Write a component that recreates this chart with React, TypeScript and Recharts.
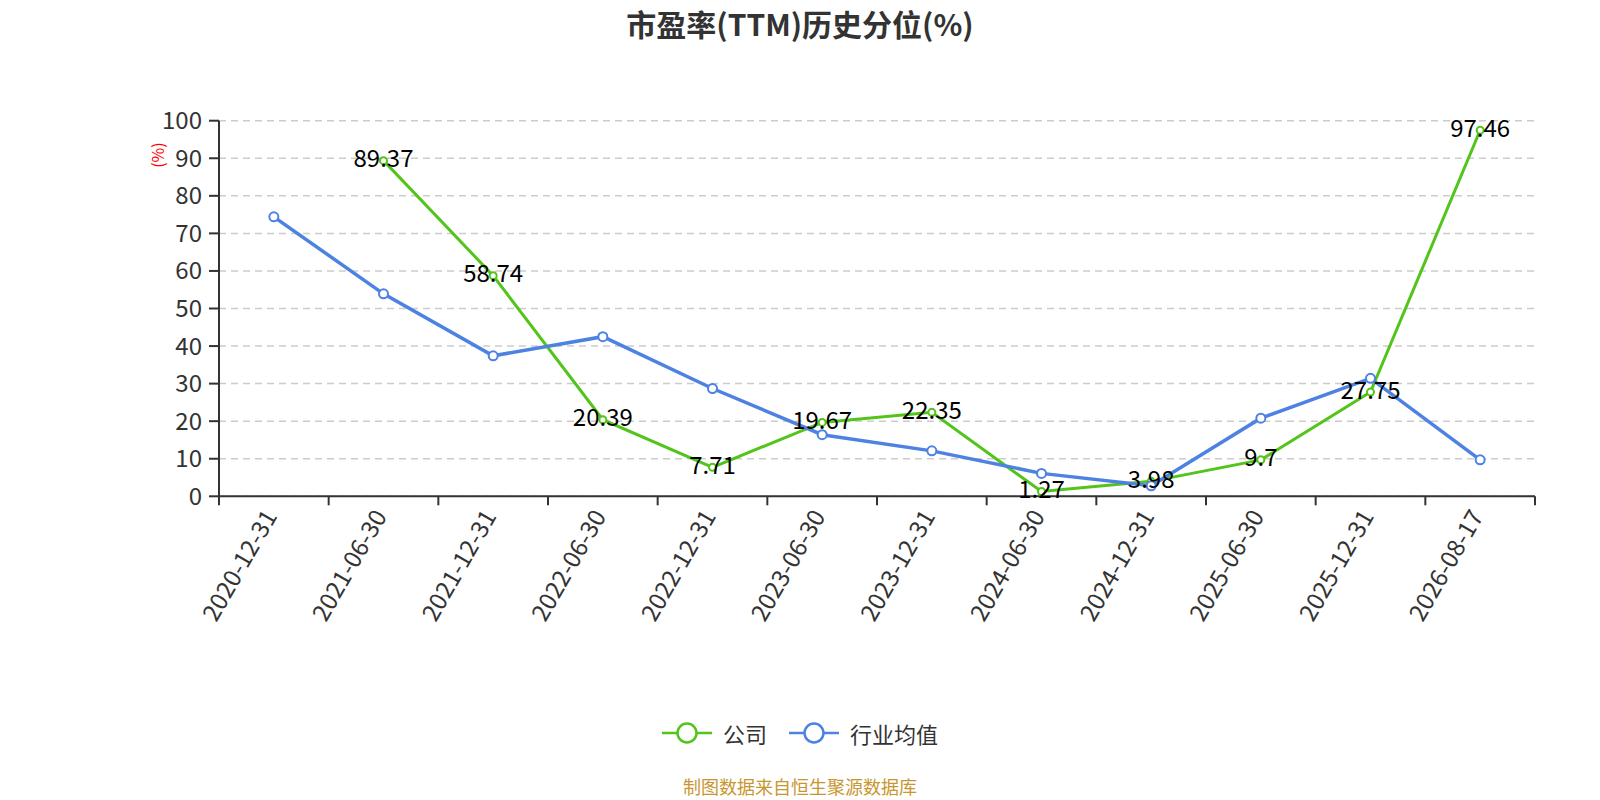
import React from 'react';
import { LineChart, Line, XAxis, YAxis, CartesianGrid, LabelList } from 'recharts';

const categories = [
  '2020-12-31', '2021-06-30', '2021-12-31', '2022-06-30', '2022-12-31', '2023-06-30',
  '2023-12-31', '2024-06-30', '2024-12-31', '2025-06-30', '2025-12-31', '2026-08-17',
];
const companyValues: (number | null)[] = [null, 89.37, 58.74, 20.39, 7.71, 19.67, 22.35, 1.27, 3.98, 9.7, 27.75, 97.46];
const industryValues = [74.4, 53.9, 37.4, 42.5, 28.7, 16.4, 12.1, 6.1, 2.8, 20.8, 31.4, 9.7];
const yTicks = [0, 10, 20, 30, 40, 50, 60, 70, 80, 90, 100];

const GREEN = '#52c41a';
const BLUE = '#4d82e2';
const FONT = '"Noto Sans CJK SC", "Noto Sans", sans-serif';

const data = categories.map((c, i) => ({
  x: i + 0.5,
  name: c,
  company: companyValues[i],
  industry: industryValues[i],
}));

const xTicks: number[] = [];
for (let i = 0; i <= categories.length * 2; i++) xTicks.push(i / 2);

const XTick = (props: any) => {
  const { x, y, payload } = props;
  const v = payload.value as number;
  if (Number.isInteger(v)) {
    return <line x1={x} y1={y} x2={x} y2={y + 9} stroke="#333" strokeWidth={2} />;
  }
  const label = categories[Math.floor(v)];
  return (
    <g transform={`translate(${x},${y + 6}) rotate(-60)`}>
      <text x={-10} y={0} textAnchor="end" dominantBaseline="central" fill="#333" fontSize={24} fontFamily={FONT}>
        {label}
      </text>
    </g>
  );
};

const PointLabel = (props: any) => {
  const { x, y, value } = props;
  if (value === null || value === undefined) return null;
  return (
    <text x={x} y={y - 4} textAnchor="middle" dominantBaseline="central" fill="#000" fontSize={24} fontFamily={FONT}>
      {value}
    </text>
  );
};

const LegendItem = ({ color, label }: { color: string; label: string }) => (
  <div style={{ display: 'flex', alignItems: 'center', marginRight: 22 }}>
    <svg width={50} height={24} style={{ marginRight: 11 }}>
      <line x1={0} y1={12} x2={50} y2={12} stroke={color} strokeWidth={2.5} />
      <circle cx={25} cy={12} r={9.5} fill="#fff" stroke={color} strokeWidth={2.5} />
    </svg>
    <span style={{ fontSize: 22, color: '#333', fontFamily: FONT }}>{label}</span>
  </div>
);

export default function App() {
  return (
    <div style={{ position: 'absolute', left: 0, top: 0, width: 1600, height: 800, background: '#fff', overflow: 'hidden', fontFamily: FONT }}>
      <div style={{ position: 'absolute', left: 0, width: 1600, top: 3, textAlign: 'center', fontSize: 30, fontWeight: 'bold', color: '#333', lineHeight: '40px' }}>
        市盈率(TTM)历史分位(%)
      </div>
      <div style={{ position: 'absolute', left: 0, top: 0 }}>
        <LineChart width={1600} height={800} data={data} margin={{ top: 120.7, right: 65, bottom: 273.7, left: 0 }}>
          <CartesianGrid vertical={false} stroke="#ccc" strokeDasharray="7 5" strokeWidth={1.5} />
          <XAxis
            type="number"
            dataKey="x"
            domain={[0, 12]}
            ticks={xTicks}
            interval={0}
            tickSize={0}
            tickMargin={0}
            tickLine={false}
            tick={<XTick />}
            height={30}
            axisLine={{ stroke: '#333', strokeWidth: 2 }}
            allowDataOverflow
          />
          <YAxis
            type="number"
            domain={[0, 100]}
            ticks={yTicks}
            interval={0}
            width={219}
            tickSize={10}
            tickMargin={7}
            tick={{ fill: '#333', fontSize: 24, fontFamily: FONT }}
            tickLine={{ stroke: '#333', strokeWidth: 2 }}
            axisLine={{ stroke: '#333', strokeWidth: 2 }}
          />
          <Line
            type="linear"
            dataKey="company"
            stroke={GREEN}
            strokeWidth={3}
            dot={{ r: 3.5, fill: '#fff', stroke: GREEN, strokeWidth: 2 }}
            activeDot={false}
            isAnimationActive={false}
          />
          <Line
            type="linear"
            dataKey="industry"
            stroke={BLUE}
            strokeWidth={3.5}
            dot={{ r: 4.5, fill: '#fff', stroke: BLUE, strokeWidth: 2 }}
            activeDot={false}
            isAnimationActive={false}
          />
          <Line
            type="linear"
            dataKey="company"
            stroke="none"
            dot={false}
            activeDot={false}
            legendType="none"
            isAnimationActive={false}
          >
            <LabelList dataKey="company" content={<PointLabel />} />
          </Line>
        </LineChart>
      </div>
      <svg style={{ position: 'absolute', left: 0, top: 0 }} width={200} height={200}>
        <text x={156.7} y={155} transform="rotate(-90, 156.7, 155)" textAnchor="middle" dominantBaseline="central" fill="#f00" fontSize={16} fontFamily={FONT}>
          (%)
        </text>
      </svg>
      <div style={{ position: 'absolute', left: 0, width: 1600, top: 717, display: 'flex', justifyContent: 'center', paddingLeft: 22, boxSizing: 'border-box' }}>
        <LegendItem color={GREEN} label="公司" />
        <LegendItem color={BLUE} label="行业均值" />
      </div>
      <div style={{ position: 'absolute', left: 0, width: 1600, top: 775, textAlign: 'center', fontSize: 18, color: '#c8962f', lineHeight: '22px' }}>
        制图数据来自恒生聚源数据库
      </div>
    </div>
  );
}
